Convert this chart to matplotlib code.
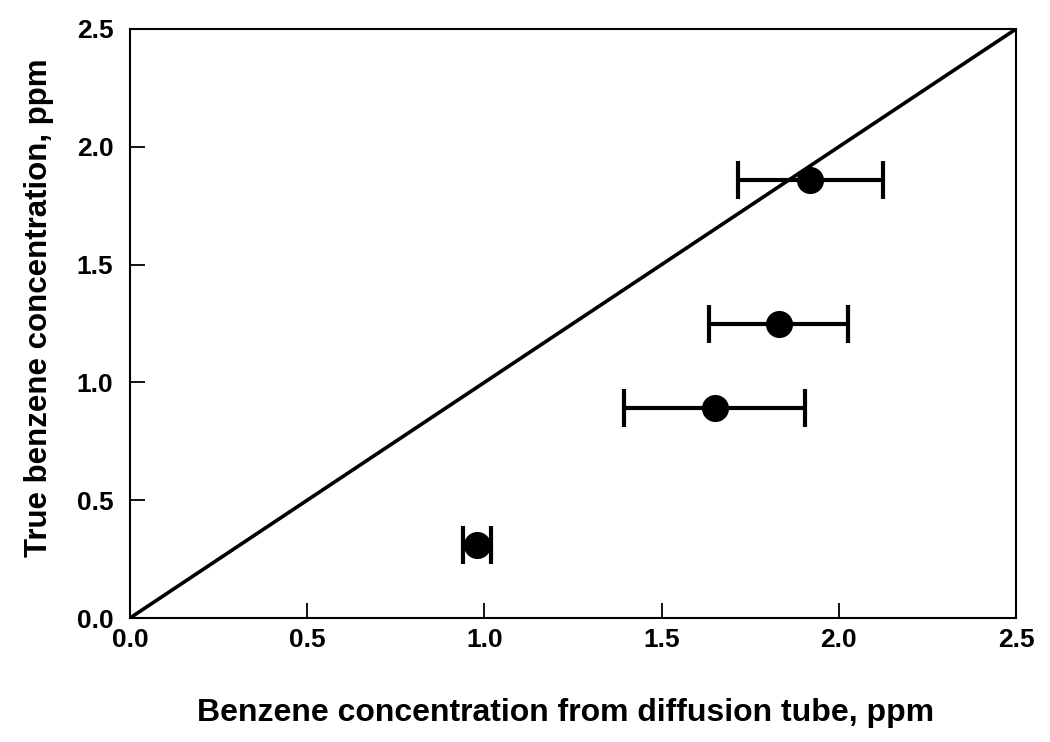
import matplotlib
matplotlib.use("Agg")
import matplotlib.pyplot as plt

# data
tube_ppm = [0.98, 1.65, 1.83, 1.92]
true_ppm = [0.31, 0.89, 1.25, 1.86]
tube_err = [0.04, 0.255, 0.195, 0.205]

ticks = [0.0, 0.5, 1.0, 1.5, 2.0, 2.5]
tick_labels = ["0.0", "0.5", "1.0", "1.5", "2.0", "2.5"]

plt.rcParams['font.family'] = ['Liberation Sans', 'DejaVu Sans']
plt.rcParams['font.weight'] = 'bold'

fig = plt.figure(figsize=(10.5, 7.42), dpi=100)
ax = fig.add_axes([130 / 1050, 1 - 618 / 742, (1016 - 130) / 1050, (618 - 29) / 742])

# 1:1 line
ax.plot([0, 2.5], [0, 2.5], color='black', lw=2.6)

ax.errorbar(tube_ppm, true_ppm, xerr=tube_err, fmt='o', color='black',
            markersize=18.5, elinewidth=3, capsize=14, capthick=3)

ax.set_xlim(0, 2.5)
ax.set_ylim(0, 2.5)
ax.set_xticks(ticks)
ax.set_xticklabels(tick_labels)
ax.set_yticks(ticks)
ax.set_yticklabels(tick_labels)
ax.tick_params(direction='in', length=11, width=1.3, labelsize=19)
ax.tick_params(axis='x', pad=7)
ax.tick_params(axis='y', pad=12)
for s in ax.spines.values():
    s.set_linewidth(1.5)

ax.set_xlabel('Benzene concentration from diffusion tube, ppm', fontsize=23, fontweight='bold', labelpad=33)
ax.set_ylabel('True benzene concentration, ppm', fontsize=22.5, fontweight='bold', labelpad=16)
ax.xaxis.label.set_x(0.492)
ax.yaxis.label.set_y(0.526)

fig.savefig('out.png', dpi=100)
